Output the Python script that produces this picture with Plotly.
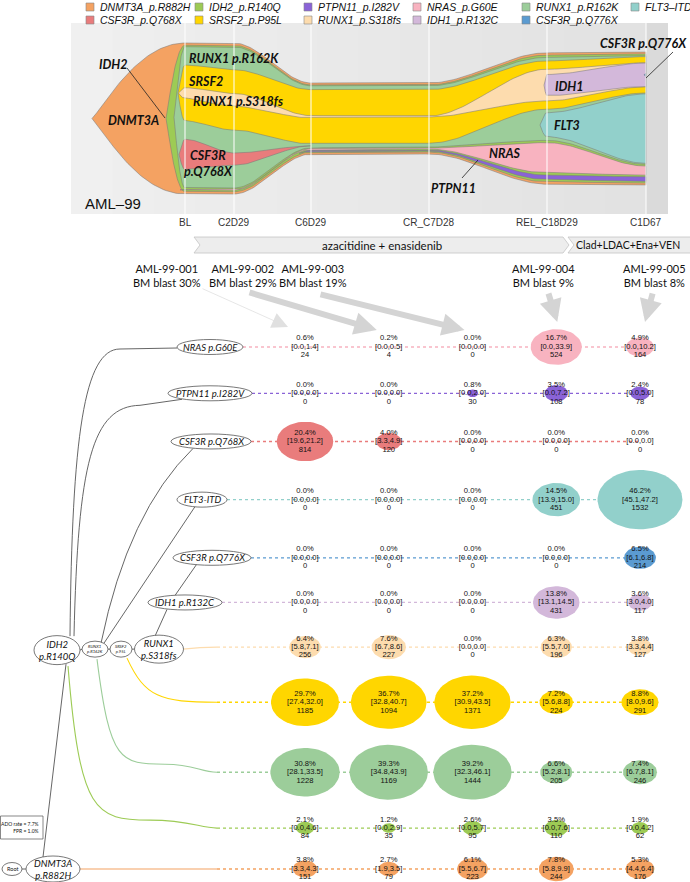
import numpy as np
import plotly.graph_objects as go

W, H = 690, 882

# ======================= DATA =======================
legend_keys = ["DNMT3A", "Q768X", "IDH2", "SRSF2", "PTPN11", "S318fs",
               "NRAS", "IDH1", "R162K", "Q776X", "FLT3"]
legend_labels = ["DNMT3A_p.R882H", "CSF3R_p.Q768X", "IDH2_p.R140Q", "SRSF2_p.P95L",
                 "PTPN11_p.I282V", "RUNX1_p.S318fs", "NRAS_p.G60E", "IDH1_p.R132C",
                 "RUNX1_p.R162K", "CSF3R_p.Q776X", "FLT3–ITD"]

# fish plot (clonal fractions, % of max, at each time point)
fish_timepoints = ["BL", "C2D29", "C6D29", "CR_C7D28", "REL_C18D29", "C1D67"]
fish_day = [114, 163, 240, 358, 476, 575]
fish_clones = ["DNMT3A", "IDH2", "R162K", "SRSF2", "S318fs", "IDH1", "Q776X",
               "FLT3", "Q768X", "NRAS", "PTPN11"]
fish_parent = [None, "DNMT3A", "IDH2", "R162K", "SRSF2", "S318fs", "IDH1",
               "R162K", "R162K", "IDH2", "IDH2"]
fish_emerge_day = [21, 95, 103, 107, 107.5, 473, 573, 469, 108, 109, 228]
frac_DNMT3A = [100, 100, 47, 47, 87, 88]
frac_IDH2 = [97, 97, 44.5, 44.5, 84, 85.5]
frac_R162K = [93.5, 93.5, 41, 40.5, 55, 72]
frac_SRSF2 = [37, 40, 36, 35.5, 32, 24]
frac_S318fs = [7, 8.5, 1.5, 0.6, 21, 16]
frac_IDH1 = [0, 0, 0, 0, 14, 15.5]
frac_Q776X = [0, 0, 0, 0, 0, 2]
frac_FLT3 = [0, 0, 0, 0, 16, 46]
frac_Q768X = [20, 8, 0, 0, 0, 0]
frac_NRAS = [0.6, 0.4, 0.6, 0.7, 20, 6]
frac_PTPN11 = [0, 0, 0.5, 0.7, 3, 3]
fish_labels = ["IDH2", "DNMT3A", "RUNX1 p.R162K", "SRSF2", "RUNX1 p.S318fs",
               "CSF3R<br>p.Q768X", "IDH1", "FLT3", "NRAS", "PTPN11", "CSF3R p.Q776X"]

# samples / treatments
samples = ["AML-99-001", "AML-99-002", "AML-99-003", "AML-99-004", "AML-99-005"]
bm_blast = [30, 29, 19, 9, 8]
treatments = ["azacitidine + enasidenib", "Clad+LDAC+Ena+VEN"]

# single-cell VAF table (rows = mutations, columns = samples)
row_keys = ["NRAS", "PTPN11", "Q768X", "FLT3", "Q776X", "IDH1", "S318fs",
            "SRSF2", "R162K", "IDH2", "DNMT3A"]
row_labels = ["NRAS p.G60E", "PTPN11 p.I282V", "CSF3R p.Q768X", "FLT3-ITD",
              "CSF3R p.Q776X", "IDH1 p.R132C", "RUNX1<br>p.S318fs", "SRSF2<br>p.95L",
              "RUNX1<br>p.R162K", "IDH2<br>p.R140Q", "DNMT3A<br>p.R882H"]
vaf_NRAS = [0.6, 0.2, 0.0, 16.7, 4.9]
lo_NRAS = [0.0, 0.0, 0.0, 0.0, 0.0]
hi_NRAS = [1.4, 0.5, 0.0, 33.9, 10.2]
n_NRAS = [24, 4, 0, 524, 164]
vaf_PTPN11 = [0.0, 0.0, 0.8, 3.5, 2.4]
lo_PTPN11 = [0.0, 0.0, 0.0, 0.0, 0.0]
hi_PTPN11 = [0.0, 0.0, 2.0, 7.2, 5.0]
n_PTPN11 = [0, 0, 30, 108, 78]
vaf_Q768X = [20.4, 4.0, 0.0, 0.0, 0.0]
lo_Q768X = [19.6, 3.3, 0.0, 0.0, 0.0]
hi_Q768X = [21.2, 4.9, 0.0, 0.0, 0.0]
n_Q768X = [814, 120, 0, 0, 0]
vaf_FLT3 = [0.0, 0.0, 0.0, 14.5, 46.2]
lo_FLT3 = [0.0, 0.0, 0.0, 13.9, 45.1]
hi_FLT3 = [0.0, 0.0, 0.0, 15.0, 47.2]
n_FLT3 = [0, 0, 0, 451, 1532]
vaf_Q776X = [0.0, 0.0, 0.0, 0.0, 6.5]
lo_Q776X = [0.0, 0.0, 0.0, 0.0, 6.1]
hi_Q776X = [0.0, 0.0, 0.0, 0.0, 6.8]
n_Q776X = [0, 0, 0, 0, 214]
vaf_IDH1 = [0.0, 0.0, 0.0, 13.8, 3.6]
lo_IDH1 = [0.0, 0.0, 0.0, 13.1, 3.0]
hi_IDH1 = [0.0, 0.0, 0.0, 14.5, 4.0]
n_IDH1 = [0, 0, 0, 431, 117]
vaf_S318fs = [6.4, 7.6, 0.0, 6.3, 3.8]
lo_S318fs = [5.8, 6.7, 0.0, 5.5, 3.3]
hi_S318fs = [7.1, 8.6, 0.0, 7.0, 4.4]
n_S318fs = [256, 227, 0, 196, 127]
vaf_SRSF2 = [29.7, 36.7, 37.2, 7.2, 8.8]
lo_SRSF2 = [27.4, 32.8, 30.9, 5.6, 8.0]
hi_SRSF2 = [32.0, 40.7, 43.5, 8.8, 9.6]
n_SRSF2 = [1185, 1094, 1371, 224, 291]
vaf_R162K = [30.8, 39.3, 39.2, 6.6, 7.4]
lo_R162K = [28.1, 34.8, 32.3, 5.2, 6.7]
hi_R162K = [33.5, 43.9, 46.1, 8.1, 8.1]
n_R162K = [1228, 1169, 1444, 205, 246]
vaf_IDH2 = [2.1, 1.2, 2.6, 3.5, 1.9]
lo_IDH2 = [0.0, 0.0, 0.0, 0.0, 0.0]
hi_IDH2 = [4.6, 2.9, 5.7, 7.6, 4.2]
n_IDH2 = [84, 35, 95, 110, 62]
vaf_DNMT3A = [3.8, 2.7, 6.1, 7.8, 5.3]
lo_DNMT3A = [3.3, 1.9, 5.5, 5.8, 4.4]
hi_DNMT3A = [4.3, 3.5, 6.7, 9.9, 6.4]
n_DNMT3A = [151, 79, 223, 244, 176]
ado_rate = 7.7
fpr = 1.0

# ======================= STYLE / LAYOUT =======================
COL = {
    "DNMT3A": "#F4A262", "IDH2": "#9DCB55", "R162K": "#9CCD9A", "SRSF2": "#FFD600",
    "S318fs": "#FDDCAE", "IDH1": "#D3B8DA", "Q776X": "#5B9BD1", "FLT3": "#92D0CB",
    "Q768X": "#E97C7C", "NRAS": "#F8B3C0", "PTPN11": "#8A63D7",
}
CAL = "Lato, 'Open Sans', sans-serif"
ARI = "'Liberation Sans', Arial, sans-serif"

FISH_X0, FISH_X1 = 71, 668
FISH_Y0, FISH_Y1 = 23, 214
PX_PER_PCT = 1.51
COL0_PX, COL4_PX = 305, 640
PX_PER_COL = (COL4_PX - COL0_PX) / 4
ROW_TOP, ROW_BOT = 347, 869
TEXT_HALF = 12.5

fig = go.Figure()

half_span = (FISH_Y1 - FISH_Y0) / 2 / PX_PER_PCT
fig.update_layout(
    width=W, height=H, margin=dict(l=0, r=0, t=0, b=0),
    paper_bgcolor="white", plot_bgcolor="rgba(0,0,0,0)", showlegend=False,
    xaxis=dict(domain=[FISH_X0 / W, FISH_X1 / W], range=[0, FISH_X1 - FISH_X0],
               visible=False, fixedrange=True, anchor="y"),
    yaxis=dict(domain=[1 - FISH_Y1 / H, 1 - FISH_Y0 / H], range=[-half_span, half_span],
               visible=False, fixedrange=True, anchor="x"),
    xaxis2=dict(domain=[0, 1], range=[0, W], visible=False, fixedrange=True, anchor="y2"),
    yaxis2=dict(domain=[0, 1], range=[H, 0], visible=False, fixedrange=True, anchor="x2"),
    xaxis3=dict(domain=[0, 1], range=[-COL0_PX / PX_PER_COL, (W - COL0_PX) / PX_PER_COL],
                visible=False, fixedrange=True, anchor="y2"),
)

shapes = []
annos = []

# ---------------- fish panel background ----------------
c_start, c_end = np.array([240, 240, 240]), np.array([226, 226, 226])
x_end_bg = FISH_X0 + fish_day[-1]
n_str = 14
edges = np.linspace(FISH_X0, x_end_bg, n_str + 1)
for i in range(n_str):
    c = (c_start + (c_end - c_start) * i / (n_str - 1)).astype(int)
    shapes.append(dict(type="rect", xref="paper", yref="paper",
                       x0=edges[i] / W, x1=(edges[i + 1] + 0.5) / W,
                       y0=1 - FISH_Y1 / H, y1=1 - FISH_Y0 / H,
                       fillcolor=f"rgb({c[0]},{c[1]},{c[2]})", line=dict(width=0), layer="below"))
shapes.append(dict(type="rect", xref="paper", yref="paper",
                   x0=x_end_bg / W, x1=FISH_X1 / W, y0=1 - FISH_Y1 / H, y1=1 - FISH_Y0 / H,
                   fillcolor="rgb(218,218,218)", line=dict(width=0), layer="below"))

# ---------------- fish layout ----------------
F = {c: globals()["frac_" + c] for c in fish_clones}
children = {c: [] for c in fish_clones}
for c, p in zip(fish_clones, fish_parent):
    if p is not None:
        children[p].append(c)
emerge = dict(zip(fish_clones, fish_emerge_day))


def layout_at(k):
    pos = {}
    f0 = F["DNMT3A"][k]
    pos["DNMT3A"] = (f0 / 2, -f0 / 2)

    def place(p):
        top, bot = pos[p]
        kids = children[p]
        nz = [c for c in kids if F[c][k] > 0]
        gap = (F[p][k] - sum(F[c][k] for c in nz)) / (len(nz) + 1) if nz else None
        cur = top
        for c in kids:
            fc = F[c][k]
            if fc > 0:
                cur -= gap
                pos[c] = (cur, cur - fc)
                cur -= fc
            else:
                z = cur - gap / 2 if gap is not None else (top + bot) / 2
                pos[c] = (z, z)
            place(c)

    place("DNMT3A")
    return pos


LAY = [layout_at(k) for k in range(len(fish_day))]


def sm(u):
    u = np.clip(u, 0, 1)
    return u * u * (3 - 2 * u)


for c in fish_clones:
    ks = [k for k in range(len(fish_day)) if F[c][k] > 0]
    k0, k1 = ks[0], ks[-1]
    xs, tops, bots = [], [], []
    t0 = fish_day[k0]
    te = emerge[c]
    top0, bot0 = LAY[k0][c]
    w0 = top0 - bot0
    for u in np.linspace(0, 1, 40):
        x = te + (t0 - te) * u
        e = sm(u ** 0.6)
        if k0 > 0:
            tp = fish_day[k0 - 1]
            g = sm((x - tp) / (t0 - tp))
            zp = LAY[k0 - 1][c][0]
            ctr = zp + ((top0 + bot0) / 2 - zp) * g
        else:
            ctr = (top0 + bot0) / 2
        xs.append(x); tops.append(ctr + w0 * e / 2); bots.append(ctr - w0 * e / 2)
    kend = min(k1 + 1, len(fish_day) - 1)
    for k in range(k0, kend):
        a, b = LAY[k][c], LAY[k + 1][c]
        for u in np.linspace(0, 1, 40)[1:]:
            s = sm(u)
            xs.append(fish_day[k] + (fish_day[k + 1] - fish_day[k]) * u)
            tops.append(a[0] + (b[0] - a[0]) * s)
            bots.append(a[1] + (b[1] - a[1]) * s)
    fig.add_trace(go.Scatter(
        x=xs + xs[::-1], y=tops + bots[::-1], mode="lines", fill="toself",
        fillcolor=COL[c], line=dict(color="rgba(120,120,120,0.75)", width=0.7),
        hoverinfo="skip", xaxis="x", yaxis="y"))

# time point lines and labels
for tp, d in zip(fish_timepoints, fish_day):
    shapes.append(dict(type="line", xref="x", yref="paper", x0=d, x1=d,
                       y0=1 - FISH_Y1 / H, y1=1 - FISH_Y0 / H,
                       line=dict(color="rgba(255,255,255,0.85)", width=1.2), layer="above"))
    annos.append(dict(x=d, y=222, xref="x", yref="y2", text=tp, showarrow=False,
                      font=dict(family=ARI, size=10, color="#333")))

annos.append(dict(x=83, y=203, xref="x2", yref="y2", text="AML–99", showarrow=False,
                  xanchor="left", font=dict(family=ARI, size=15, color="#111")))

fish_label_pos = [(113, 64, "center"), (133, 120, "center"), (187, 58, "left"),
                  (186, 81, "left"), (191, 101, "left"), (182, 163, "left"),
                  (553, 86, "left"), (552, 125, "left"), (487, 153, "left"),
                  (453, 188, "center"), (689, 43, "right")]
for txt, (x, y, anc) in zip(fish_labels, fish_label_pos):
    annos.append(dict(x=x, y=y, xref="x2", yref="y2", text=f"<b><i>{txt}</i></b>",
                      showarrow=False, xanchor=anc,
                      font=dict(family=CAL, size=12.5, color="#111")))
for (x0, y0, x1, y1) in [(127, 68, 165, 118), (462, 178, 478, 160), (673, 52, 646, 78)]:
    shapes.append(dict(type="line", xref="x2", yref="y2", x0=x0, y0=y0, x1=x1, y1=y1,
                       line=dict(color="#222", width=0.8)))

# ---------------- legend ----------------
for i, (k, lab) in enumerate(zip(legend_keys, legend_labels)):
    col, row = i // 2, i % 2
    cx = 90 + col * 109
    cy = 7 + row * 13
    shapes.append(dict(type="rect", xref="x2", yref="y2", x0=cx - 4, x1=cx + 4,
                       y0=cy - 4, y1=cy + 4, fillcolor=COL[k],
                       line=dict(color="#888", width=0.6)))
    annos.append(dict(x=cx + 8, y=cy, xref="x2", yref="y2", text=f"<i>{lab}</i>",
                      showarrow=False, xanchor="left",
                      font=dict(family=ARI, size=10.5, color="#111")))

# ---------------- treatment chevrons ----------------
shapes.append(dict(type="path", xref="x2", yref="y2",
                   path="M194,237 L563,237 L569,245 L563,253 L194,253 L200,245 Z",
                   fillcolor="#EDEDED", line=dict(color="#C4C4C4", width=0.8)))
shapes.append(dict(type="path", xref="x2", yref="y2",
                   path="M568,237 L694,237 L694,253 L568,253 L574,245 Z",
                   fillcolor="#EDEDED", line=dict(color="#C4C4C4", width=0.8)))
annos.append(dict(x=382, y=245, xref="x2", yref="y2", text=treatments[0], showarrow=False,
                  font=dict(family=CAL, size=11.5, color="#111")))
annos.append(dict(x=628, y=245, xref="x2", yref="y2", text=treatments[1], showarrow=False,
                  font=dict(family=CAL, size=10.5, color="#111")))

# ---------------- sample labels and arrows ----------------
sample_label_x = [167, 243, 313, 543, 654]
for s, b, x in zip(samples, bm_blast, sample_label_x):
    annos.append(dict(x=x, y=275, xref="x2", yref="y2",
                      text=f"{s}<br>BM blast {b}%", showarrow=False,
                      font=dict(family=CAL, size=11, color="#111")))
arrow_tail = [(201, 288), (248, 292), (319, 294), (548, 292), (653, 292)]
arrow_dx = [-17, -12, -8, 1, 5]
arrow_w = [0.8, 6, 6, 6, 6]
for i, ((tx, ty), dx, aw) in enumerate(zip(arrow_tail, arrow_dx, arrow_w)):
    hx = COL0_PX + i * PX_PER_COL + dx
    hy = 327 + (3 if i in (1, 2) else 0) - (5 if i >= 3 else 0)
    annos.append(dict(x=hx, y=hy, xref="x2", yref="y2", ax=tx, ay=ty,
                      axref="x2", ayref="y2", showarrow=True, text="",
                      arrowhead=2, arrowsize=0.75 if aw > 1 else 4,
                      arrowwidth=aw, arrowcolor="#D4D4D4" if aw > 1 else "#E0E0E0",
                      standoff=0, startstandoff=0))

# ---------------- VAF grid ----------------
V = {k: globals()["vaf_" + k] for k in row_keys}
LO = {k: globals()["lo_" + k] for k in row_keys}
HI = {k: globals()["hi_" + k] for k in row_keys}
N = {k: globals()["n_" + k] for k in row_keys}


def bw(v):
    return 12.5 * np.sqrt(v)


# row spacing from the cell extents (bubble half-height or text block)
cell_half = {k: [max(TEXT_HALF, 0.7 * bw(v) / 2) for v in V[k]] for k in row_keys}
pair = [max(a + b for a, b in zip(cell_half[row_keys[i]], cell_half[row_keys[i + 1]]))
        for i in range(len(row_keys) - 1)]
gap_r = (ROW_BOT - ROW_TOP - sum(pair)) / len(pair)
row_y = [ROW_TOP]
for p in pair:
    row_y.append(row_y[-1] + p + gap_r)
RY = dict(zip(row_keys, row_y))

# tree geometry
yS = RY["S318fs"]
node = {
    "NRAS": (210, RY["NRAS"], 33, 7.5), "PTPN11": (210, RY["PTPN11"], 42, 7.5),
    "Q768X": (211, RY["Q768X"], 40, 7.5), "FLT3": (202, RY["FLT3"], 25, 7.5),
    "Q776X": (212, RY["Q776X"], 39, 7.5), "IDH1": (185, RY["IDH1"], 37, 7.5),
    "S318fs": (159, yS + 2, 24.5, 14), "SRSF2": (121, yS + 2, 11, 8),
    "R162K": (95, yS + 2, 13, 8), "IDH2": (57, yS + 3, 23, 14.5),
    "DNMT3A": (53, RY["DNMT3A"], 27, 13),
}
yN, yP, yC, yF, yQ, yI = (RY[k] for k in ["NRAS", "PTPN11", "Q768X", "FLT3", "Q776X", "IDH1"])
ySR, yR, yI2, yD = RY["SRSF2"], RY["R162K"], RY["IDH2"], RY["DNMT3A"]
yn = yS + 3
tree_paths = [
    f"M70,{yn-14} C72,{yN+90} 84,{yN+2} 120,{yN+2} L177,{yN+1}",
    f"M74,{yn-14} C78,{yP+70} 92,{yP+13} 140,{yP+12} L182,{yP+6}",
    f"M101,{yn-7} Q128,{yC+70} 193,{yC+7}",
    f"M104,{yn-7} L195,{yF+7}",
    f"M155,{yn-14} L167,{yI+7}",
    f"M175,{yI-7} L197,{yQ+6}",
    f"M43,{yD-12} L66,{yn+14}",
    f"M22,{yD} L26,{yD}",
    f"M80,{yn} L82,{yn-1}", f"M108,{yn-1} L110,{yn-1}", f"M132,{yn-1} L135,{yn-1}",
]
for p in tree_paths:
    shapes.append(dict(type="path", xref="x2", yref="y2", path=p,
                       line=dict(color="#555", width=0.9)))

LINE_START = 217
conn = [
    ("S318fs", f"M183,{yn-1} C200,{yn-3} 205,{yS} {LINE_START},{yS}"),
    ("SRSF2", f"M127,{yn+8} C145,{ySR-5} 160,{ySR} {LINE_START},{ySR}"),
    ("R162K", f"M97,{yn+9} C110,{yR-10} 120,{yR-8} 165,{yR-8} C195,{yR-8} 200,{yR} {LINE_START},{yR}"),
    ("IDH2", f"M68,{yn+16} C80,{yI2-15} 95,{yI2-8} 150,{yI2-8} C190,{yI2-8} 200,{yI2} {LINE_START},{yI2}"),
    ("DNMT3A", f"M80,{yD} L{LINE_START},{yD}"),
]
for k, p in conn:
    shapes.append(dict(type="path", xref="x2", yref="y2", path=p,
                       line=dict(color=COL[k], width=1.1)))

# node ellipses and labels
small = {"SRSF2": 4.2, "R162K": 4.2}
for k, lab in zip(row_keys, row_labels):
    cx, cy, rx, ry = node[k]
    shapes.append(dict(type="circle", xref="x2", yref="y2", x0=cx - rx, x1=cx + rx,
                       y0=cy - ry, y1=cy + ry, fillcolor="white",
                       line=dict(color="#555", width=0.8)))
    annos.append(dict(x=cx, y=cy, xref="x2", yref="y2", text=f"<i>{lab}</i>",
                      showarrow=False, font=dict(family=CAL, size=small.get(k, 9.5), color="#111")))
shapes.append(dict(type="circle", xref="x2", yref="y2", x0=2, x1=22, y0=yD - 6.5, y1=yD + 6.5,
                   fillcolor="white", line=dict(color="#555", width=0.8)))
annos.append(dict(x=12, y=yD, xref="x2", yref="y2", text="Root", showarrow=False,
                  font=dict(family=CAL, size=5.5, color="#111")))
shapes.append(dict(type="rect", xref="x2", yref="y2", x0=0.5, x1=43, y0=yD - 53, y1=yD - 30,
                   fillcolor="white", line=dict(color="#555", width=0.7)))
annos.append(dict(x=41, y=yD - 41.5, xref="x2", yref="y2",
                  text=f"ADO rate = {ado_rate}%<br>FPR = {fpr}%", showarrow=False,
                  xanchor="right", align="right", font=dict(family=CAL, size=5, color="#111")))

# dotted row lines (x3 = sample column, y2 = row)
for k in row_keys:
    cx, cy, rx, ry = node[k]
    start_px = cx + rx if k in ["NRAS", "PTPN11", "Q768X", "FLT3", "Q776X", "IDH1"] else LINE_START
    xs = [(start_px - COL0_PX) / PX_PER_COL] + list(range(len(samples)))
    ys = [RY[k]] * len(xs)
    fig.add_trace(go.Scatter(x=xs, y=ys, mode="lines", xaxis="x3", yaxis="y2",
                             line=dict(color=COL[k], width=1.3, dash="dot"),
                             hoverinfo="skip"))

# bubbles
th = np.linspace(0, 2 * np.pi, 60)
for k in row_keys:
    for j, v in enumerate(V[k]):
        if v < 0.7:
            continue
        w = bw(v)
        rx = w / 2 / PX_PER_COL
        ry = 0.7 * w / 2
        fig.add_trace(go.Scatter(x=j + rx * np.cos(th), y=RY[k] + ry * np.sin(th),
                                 mode="lines", fill="toself", fillcolor=COL[k],
                                 line=dict(width=0), xaxis="x3", yaxis="y2",
                                 hoverinfo="skip"))

# bubble texts (3 lines)
LH = 8.4
for k in row_keys:
    cols = list(range(len(samples)))
    l1 = [f"{v:.1f}%" for v in V[k]]
    l2 = [f"[{a:.1f},{b:.1f}]" for a, b in zip(LO[k], HI[k])]
    l3 = [f"{n}" for n in N[k]]
    for off, txt in zip([-LH, 0, LH], [l1, l2, l3]):
        fig.add_trace(go.Scatter(x=cols, y=[RY[k] + off] * len(cols), mode="text",
                                 text=txt, textposition="middle center",
                                 textfont=dict(family=ARI, size=7.6, color="#111"),
                                 xaxis="x3", yaxis="y2", hoverinfo="skip"))

fig.update_layout(shapes=shapes, annotations=annos)
fig.write_html("out.html", config={"displayModeBar": False, "staticPlot": True},
               post_script="document.body.style.margin='0';document.body.style.padding='0';")
